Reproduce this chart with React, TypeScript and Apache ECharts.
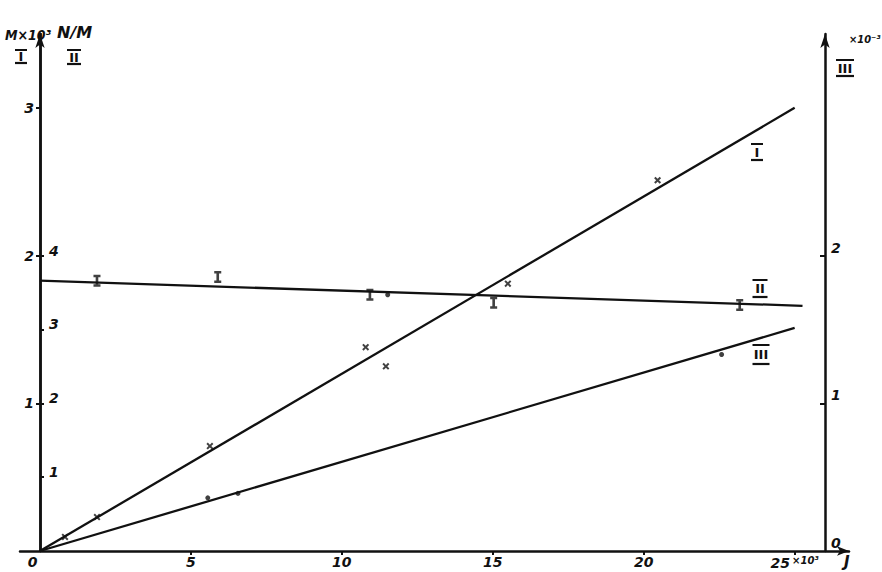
import React, { useEffect, useRef } from 'react';
import * as echarts from 'echarts';

// Tick values
const xTicks = [0, 5, 10, 15, 20, 25];
const yTicksI = [1, 2, 3];
const yTicksII = [1, 2, 3, 4];
const yTicksIII = [0, 1, 2];

// Fitted lines (endpoints)
const lineI = [[0, 0], [25, 3.0]];
const lineII = [[0, 3.66], [25.26, 3.32]];
const lineIII = [[0, 0], [25, 1.51]];

// Measured points
const pointsI = [[0.83, 0.095], [1.89, 0.23], [5.63, 0.71], [10.79, 1.38], [11.46, 1.25], [15.5, 1.81], [20.46, 2.51]];
const pointsII = [[1.89, 3.66], [5.89, 3.71], [10.93, 3.47], [15.03, 3.36], [23.18, 3.33]];
const dotsII = [[11.52, 3.47]];
const pointsIII = [[5.56, 0.36], [6.56, 0.39], [22.58, 1.33]];

const F = '"DejaVu Sans", sans-serif';
const FC = '"DejaVu Sans Condensed", "DejaVu Sans", sans-serif';
const INK = '#111';

const X_SYMBOL = 'path://M0,2L2,0L5,3L8,0L10,2L7,5L10,8L8,10L5,7L2,10L0,8L3,5Z';
const IBEAM = 'path://M0,0H8V2.5H5.5V9.5H8V12H0V9.5H2.5V2.5H0Z';

function roman(cx: number, top: number, bottom: number, txt: string, w: number) {
  return [
    {
      type: 'text',
      x: cx,
      y: (top + bottom) / 2,
      style: { text: txt, align: 'center', verticalAlign: 'middle', fontFamily: F, fontWeight: 'bold', fontSize: 13, fill: INK },
    },
    { type: 'line', shape: { x1: cx - w / 2, y1: top, x2: cx + w / 2, y2: top }, style: { stroke: INK, lineWidth: 2 } },
    { type: 'line', shape: { x1: cx - w / 2, y1: bottom, x2: cx + w / 2, y2: bottom }, style: { stroke: INK, lineWidth: 2.2 } },
  ];
}

export default function App() {
  const ref = useRef<HTMLDivElement>(null);
  useEffect(() => {
    if (!ref.current) return;
    const chart = echarts.init(ref.current, undefined, { renderer: 'svg' });
    const labelStyle = { color: INK, fontFamily: F, fontWeight: 'bold' as const, fontStyle: 'italic' as const, fontSize: 14 };
    const axisLineStyle = { color: INK, width: 2.5 };
    chart.setOption({
      animation: false,
      backgroundColor: '#fff',
      grid: { left: 20, right: 33, top: 34, bottom: 21, containLabel: false, outerBoundsMode: 'none' },
      xAxis: {
        type: 'value',
        min: -0.66,
        max: 26.8,
        axisLine: { onZero: false, lineStyle: axisLineStyle, symbol: ['none', 'arrow'], symbolSize: [7, 12] },
        axisTick: { show: true, customValues: [5, 10, 15, 20, 25], length: 4, lineStyle: { color: INK, width: 2 } },
        axisLabel: {
          ...labelStyle,
          customValues: xTicks,
          margin: 4,
          formatter: (v: number) => (v === 0 ? '0   ' : v === 25 ? '25{s|×10³}' : String(v)),
          rich: { s: { fontSize: 10, fontFamily: F, fontWeight: 'bold', fontStyle: 'italic', color: INK, padding: [0, 0, 5, 2] } },
        },
        splitLine: { show: false },
      },
      yAxis: [
        {
          type: 'value',
          position: 'left',
          offset: -20,
          min: 0,
          max: 3.5,
          axisLine: { show: true, onZero: false, lineStyle: axisLineStyle, symbol: ['none', 'arrow'], symbolSize: [7, 14] },
          axisTick: { show: true, customValues: yTicksI, length: 4, lineStyle: { color: INK, width: 2 } },
          axisLabel: { ...labelStyle, customValues: yTicksI, margin: 6 },
          splitLine: { show: false },
        },
        {
          type: 'value',
          position: 'left',
          offset: -20,
          min: 0,
          max: 7,
          axisLine: { show: true, onZero: false, lineStyle: axisLineStyle },
          axisTick: { show: true, inside: true, customValues: yTicksII, length: 4, lineStyle: { color: INK, width: 2 } },
          axisLabel: {
            ...labelStyle,
            inside: true,
            customValues: yTicksII,
            margin: 9,
            verticalAlign: 'middle',
            lineHeight: 10,
            formatter: (v: number) => v + '\n ',
          },
          splitLine: { show: false },
        },
        {
          type: 'value',
          position: 'right',
          offset: -24,
          min: 0,
          max: 3.5,
          axisLine: { show: true, onZero: false, lineStyle: axisLineStyle, symbol: ['none', 'arrow'], symbolSize: [7, 14] },
          axisTick: { show: true, inside: true, customValues: [1, 2], length: 5, lineStyle: { color: INK, width: 2 } },
          axisLabel: {
            ...labelStyle,
            customValues: yTicksIII,
            margin: 6,
            verticalAlign: 'middle',
            lineHeight: 16,
            formatter: (v: number) => v + '\n ',
          },
          splitLine: { show: false },
        },
      ],
      series: [
        { type: 'line', yAxisIndex: 0, data: lineI, showSymbol: false, silent: true, lineStyle: { color: INK, width: 2.3 } },
        { type: 'line', yAxisIndex: 1, data: lineII, showSymbol: false, silent: true, lineStyle: { color: INK, width: 2.3 } },
        { type: 'line', yAxisIndex: 2, data: lineIII, showSymbol: false, silent: true, lineStyle: { color: INK, width: 2.3 } },
        { type: 'scatter', yAxisIndex: 0, data: pointsI, symbol: X_SYMBOL, symbolSize: 7, itemStyle: { color: INK } },
        { type: 'scatter', yAxisIndex: 1, data: pointsII, symbol: IBEAM, symbolSize: [7, 12], itemStyle: { color: INK } },
        { type: 'scatter', yAxisIndex: 1, data: dotsII, symbol: 'circle', symbolSize: 5, itemStyle: { color: INK } },
        { type: 'scatter', yAxisIndex: 2, data: pointsIII, symbol: 'circle', symbolSize: 5, itemStyle: { color: INK } },
      ],
      graphic: [
        { type: 'text', x: 5, y: 28, style: { text: 'M×10³', fontFamily: FC, fontWeight: 'bold', fontStyle: 'italic', fontSize: 14, fill: INK } },
        ...roman(21, 50, 63, 'I', 12),
        { type: 'text', x: 57, y: 24, style: { text: 'N/M', fontFamily: F, fontWeight: 'bold', fontStyle: 'italic', fontSize: 16, fill: INK } },
        ...roman(74, 50, 64, 'II', 14),
        { type: 'text', x: 849, y: 34, style: { text: '×10⁻³', fontFamily: FC, fontWeight: 'bold', fontStyle: 'italic', fontSize: 11, fill: INK } },
        ...roman(845, 60, 76, 'III', 18),
        ...roman(757, 144, 160, 'I', 12),
        ...roman(760, 280, 297, 'II', 15),
        ...roman(761, 345, 364, 'III', 17),
        { type: 'text', x: 844, y: 554, style: { text: 'J', fontFamily: F, fontWeight: 'bold', fontStyle: 'italic', fontSize: 15, fill: INK } },
      ],
    });
    return () => chart.dispose();
  }, []);
  return <div ref={ref} style={{ position: 'fixed', left: 0, top: 0, width: 882, height: 572 }} />;
}
